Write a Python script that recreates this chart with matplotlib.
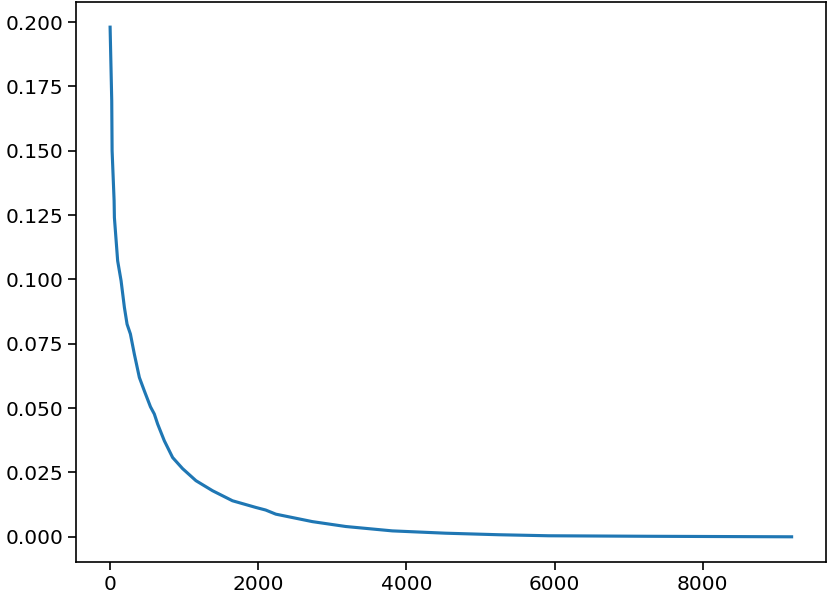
import matplotlib
matplotlib.use("Agg")
import matplotlib.pyplot as plt

# --- values ---
steps = [0, 22, 27, 54, 58, 102, 148, 193, 229, 274, 327, 395, 462, 545,
         597, 642, 732, 844, 978, 1159, 1383, 1652, 1968, 2100, 2237, 2730,
         3181, 3809, 4528, 5247, 5921, 7277, 9200]
values = [0.198, 0.1694, 0.150, 0.1306, 0.124, 0.1072, 0.0995, 0.0891,
          0.0826, 0.0788, 0.0710, 0.0619, 0.0567, 0.0505, 0.0477, 0.0438,
          0.0373, 0.0308, 0.0265, 0.0218, 0.0179, 0.0140, 0.0114, 0.0104,
          0.0088, 0.0059, 0.0040, 0.0023, 0.0014, 0.0008, 0.0004, 0.0002,
          0.0000]

plt.rcParams["font.size"] = 14.5

fig = plt.figure(figsize=(8.3, 5.99), dpi=100)
ax = fig.add_axes([0.0916, 0.0613, 0.9032, 0.9359])

ax.plot(steps, values, color="#1f77b4", linewidth=2.25)

ax.set_yticks([0.0, 0.025, 0.05, 0.075, 0.1, 0.125, 0.15, 0.175, 0.2])
ax.set_yticklabels(["0.000", "0.025", "0.050", "0.075", "0.100",
                    "0.125", "0.150", "0.175", "0.200"])
ax.set_xticks([0, 2000, 4000, 6000, 8000])

ax.tick_params(length=5.5, width=1.2, labelsize=14.5)
for s in ax.spines.values():
    s.set_linewidth(1.2)

fig.savefig("out.png", dpi=100)
